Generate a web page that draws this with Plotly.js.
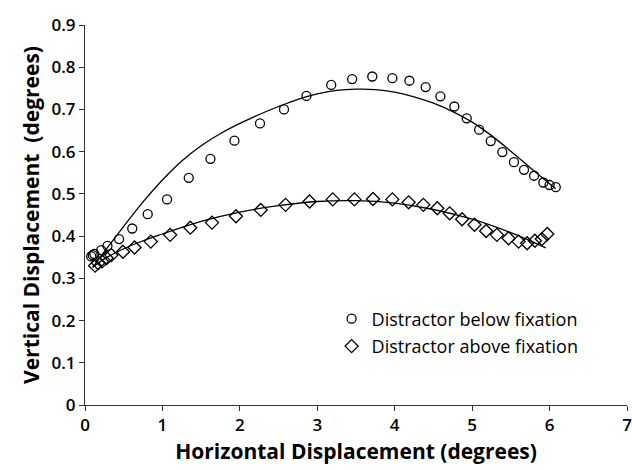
<!DOCTYPE html>
<html>
<head>
<meta charset="utf-8">
<script src="https://cdn.plot.ly/plotly-3.0.1.min.js"></script>
<style>html,body{margin:0;padding:0;background:#fff;}#chart{width:632px;height:470px;}</style>
</head>
<body>
<div id="chart"></div>
<script>
// Distractor below fixation (circles)
const belowX = [0.08, 0.10, 0.12, 0.21, 0.29, 0.44, 0.61, 0.81, 1.06, 1.34, 1.62, 1.93, 2.26, 2.57, 2.86, 3.18, 3.45, 3.71, 3.97, 4.19, 4.40, 4.59, 4.77, 4.93, 5.09, 5.24, 5.39, 5.54, 5.67, 5.80, 5.92, 6.00, 6.08];
const belowY = [0.352, 0.355, 0.358, 0.367, 0.377, 0.393, 0.418, 0.452, 0.487, 0.538, 0.583, 0.626, 0.667, 0.700, 0.732, 0.758, 0.772, 0.778, 0.774, 0.768, 0.753, 0.731, 0.707, 0.679, 0.652, 0.625, 0.599, 0.575, 0.557, 0.543, 0.527, 0.521, 0.516];
// Distractor above fixation (diamonds)
const aboveX = [0.13, 0.17, 0.22, 0.28, 0.34, 0.49, 0.64, 0.85, 1.10, 1.36, 1.64, 1.95, 2.27, 2.59, 2.90, 3.20, 3.48, 3.72, 3.97, 4.18, 4.37, 4.55, 4.71, 4.87, 5.03, 5.18, 5.32, 5.47, 5.60, 5.71, 5.81, 5.90, 5.97];
const aboveY = [0.330, 0.336, 0.340, 0.348, 0.355, 0.363, 0.373, 0.387, 0.403, 0.420, 0.432, 0.447, 0.462, 0.474, 0.482, 0.487, 0.487, 0.488, 0.487, 0.480, 0.474, 0.466, 0.454, 0.440, 0.427, 0.412, 0.403, 0.395, 0.387, 0.383, 0.389, 0.393, 0.405];
// Fitted trend curves
const belowFitX = [0.10, 0.25, 0.50, 0.75, 1.00, 1.25, 1.50, 1.75, 2.00, 2.25, 2.50, 2.75, 3.00, 3.25, 3.50, 3.75, 4.00, 4.25, 4.50, 4.75, 5.00, 5.25, 5.50, 5.75, 6.00, 6.08];
const belowFitY = [0.326, 0.363, 0.423, 0.481, 0.533, 0.578, 0.614, 0.643, 0.667, 0.688, 0.707, 0.724, 0.737, 0.745, 0.748, 0.747, 0.741, 0.730, 0.715, 0.695, 0.670, 0.638, 0.601, 0.562, 0.524, 0.512];
const aboveFitX = [0.10, 0.25, 0.50, 0.75, 1.00, 1.50, 2.00, 2.50, 3.00, 3.50, 4.00, 4.50, 5.00, 5.50, 5.95];
const aboveFitY = [0.326, 0.346, 0.370, 0.389, 0.405, 0.435, 0.457, 0.472, 0.482, 0.484, 0.478, 0.463, 0.440, 0.408, 0.372];

const xTicks = [0, 1, 2, 3, 4, 5, 6, 7];
const yTicks = [0, 0.1, 0.2, 0.3, 0.4, 0.5, 0.6, 0.7, 0.8, 0.9];
const yTickText = ['0', '0.1', '0.2', '0.3', '0.4', '0.5', '0.6', '0.7', '0.8', '0.9'];

const FONT = '"Open Sans", Lato, sans-serif';

const traces = [
  {x: belowFitX, y: belowFitY, mode: 'lines', line: {color: '#000', width: 1.3, shape: 'spline'}, showlegend: false, hoverinfo: 'skip'},
  {x: aboveFitX, y: aboveFitY, mode: 'lines', line: {color: '#000', width: 1.3, shape: 'spline'}, showlegend: false, hoverinfo: 'skip'},
  {x: belowX, y: belowY, mode: 'markers', name: 'Distractor below fixation', legendgroup: 'a',
   marker: {symbol: 'circle-open', size: 9, color: '#000', line: {width: 1.3, color: '#000'}}},
  {x: aboveX, y: aboveY, mode: 'markers', name: 'Distractor above fixation', legendgroup: 'b',
   marker: {symbol: 'diamond-open', size: 10, color: '#000', line: {width: 1.3, color: '#000'}}}
];

const layout = {
  width: 632, height: 470,
  margin: {l: 85, r: 5, t: 25, b: 65},
  paper_bgcolor: '#fff', plot_bgcolor: '#fff',
  font: {family: FONT, color: '#000'},
  showlegend: true,
  legend: {x: 0.455, y: 0.275, xanchor: 'left', yanchor: 'top', bgcolor: 'rgba(0,0,0,0)',
           font: {family: FONT, size: 18, color: '#000'}, tracegroupgap: 1, traceorder: 'grouped'},
  xaxis: {
    range: [0, 7], tickvals: xTicks, ticktext: xTicks.map(String), ticklabeloverflow: 'allow',
    showgrid: false, zeroline: false, showline: true, linecolor: '#333', linewidth: 1,
    ticks: 'outside', ticklen: 5, tickcolor: '#333',
    tickfont: {family: FONT, size: 17, color: '#000', weight: 600},
    title: {text: 'Horizontal Displacement (degrees)', font: {family: FONT, size: 21, weight: 'bold', color: '#000'}, standoff: 8}
  },
  yaxis: {
    range: [0, 0.9], tickvals: yTicks, ticktext: yTickText,
    showgrid: false, zeroline: false, showline: true, linecolor: '#333', linewidth: 1,
    ticks: 'outside', ticklen: 5, tickcolor: '#333',
    tickfont: {family: FONT, size: 17, color: '#000', weight: 600},
    title: {text: 'Vertical Displacement  (degrees)', font: {family: FONT, size: 21, weight: 'bold', color: '#000'}, standoff: 6}
  }
};

Plotly.newPlot('chart', traces, layout, {displayModeBar: false, staticPlot: true});
</script>
</body>
</html>
